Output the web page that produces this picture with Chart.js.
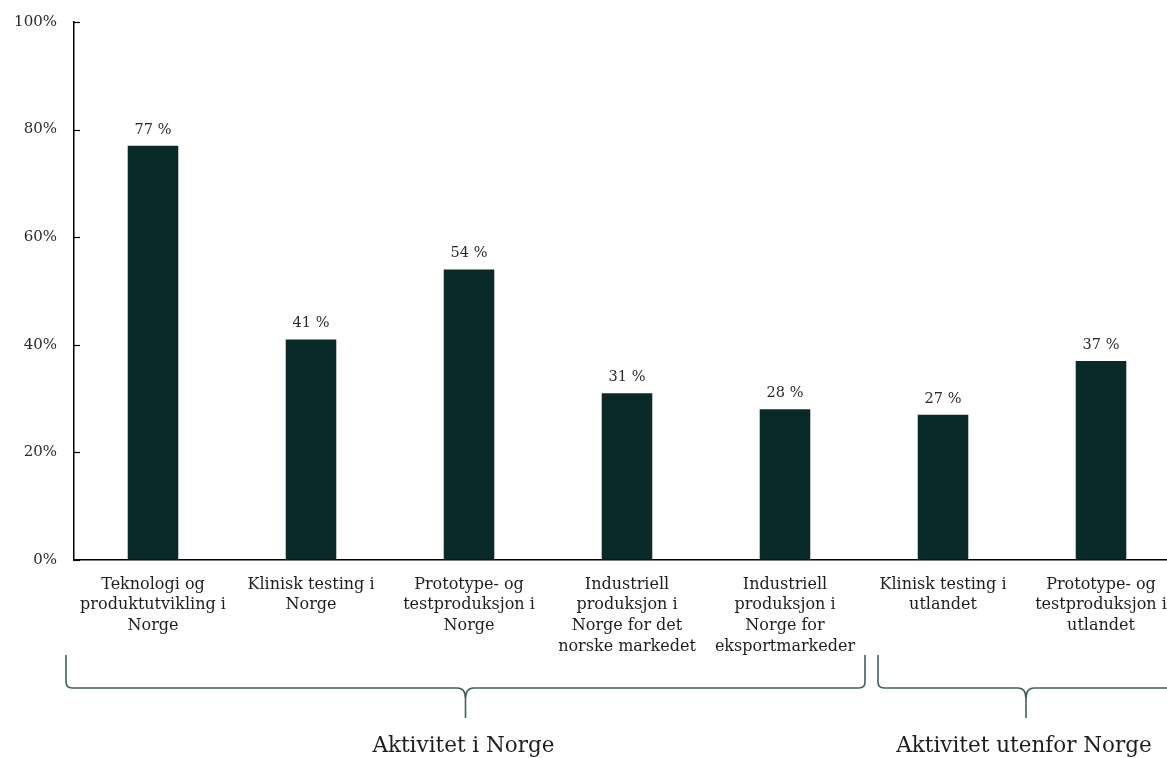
<!DOCTYPE html>
<html>
<head>
<meta charset="utf-8">
<script src="https://cdn.jsdelivr.net/npm/chart.js@4/dist/chart.umd.min.js"></script>
<style>
  html, body { margin: 0; padding: 0; background: #fff; overflow: hidden; }
  #wrap { width: 1180px; height: 758px; }
</style>
</head>
<body>
<div id="wrap"><canvas id="myChart" width="1180" height="758"></canvas></div>
<script>
var categories = [
  ["Teknologi og", "produktutvikling i", "Norge"],
  ["Klinisk testing i", "Norge"],
  ["Prototype- og", "testproduksjon i", "Norge"],
  ["Industriell", "produksjon i", "Norge for det", "norske markedet"],
  ["Industriell", "produksjon i", "Norge for", "eksportmarkeder"],
  ["Klinisk testing i", "utlandet"],
  ["Prototype- og", "testproduksjon i", "utlandet"]
];
var shares = [77, 41, 54, 31, 28, 27, 37];
var yTicks = [0, 20, 40, 60, 80, 100];

// groups of categories that get a brace underneath (first index, last index)
var groupNames = ["Aktivitet i Norge", "Aktivitet utenfor Norge"];
var groupFrom = [0, 5];
var groupTo = [4, 6];

var serif = "'DejaVu Serif', 'Liberation Serif', serif";
var barColor = "#0a2a2a";

var valueLabels = {
  id: "valueLabels",
  afterDatasetsDraw: function (chart) {
    var ctx = chart.ctx;
    var meta = chart.getDatasetMeta(0);
    ctx.save();
    ctx.font = "14.5px " + serif;
    ctx.fillStyle = "#2a2a2a";
    ctx.textAlign = "center";
    ctx.textBaseline = "alphabetic";
    meta.data.forEach(function (bar, i) {
      ctx.fillText(shares[i] + " %", bar.x, bar.y - 12);
    });
    ctx.restore();
  }
};

// small tick marks pointing into the plot
var innerTicks = {
  id: "innerTicks",
  afterDraw: function (chart) {
    var ctx = chart.ctx;
    var y = chart.scales.y;
    var x0 = chart.chartArea.left;
    ctx.save();
    ctx.strokeStyle = "#000";
    ctx.lineWidth = 1.2;
    yTicks.forEach(function (t) {
      var py = Math.round(y.getPixelForValue(t)) + 0.5;
      ctx.beginPath();
      ctx.moveTo(x0, py);
      ctx.lineTo(x0 + 6, py);
      ctx.stroke();
    });
    ctx.restore();
  }
};

function drawBrace(ctx, xa, xb, yTop, yLine, yTip) {
  var xm = (xa + xb) / 2;
  var r = 6;
  ctx.beginPath();
  ctx.moveTo(xa, yTop);
  ctx.lineTo(xa, yLine - r);
  ctx.quadraticCurveTo(xa, yLine, xa + r, yLine);
  ctx.lineTo(xm - 8, yLine);
  ctx.quadraticCurveTo(xm, yLine, xm, yLine + 11);
  ctx.lineTo(xm, yTip);
  ctx.moveTo(xm, yLine + 11);
  ctx.quadraticCurveTo(xm, yLine, xm + 8, yLine);
  ctx.lineTo(xb - r, yLine);
  ctx.quadraticCurveTo(xb, yLine, xb, yLine - r);
  ctx.lineTo(xb, yTop);
  ctx.stroke();
  return xm;
}

var braces = {
  id: "braces",
  afterDraw: function (chart) {
    var ctx = chart.ctx;
    var x = chart.scales.x;
    var half = (x.getPixelForValue(1) - x.getPixelForValue(0)) / 2;
    ctx.save();
    ctx.strokeStyle = "#435f5f";
    ctx.lineWidth = 1.6;
    groupNames.forEach(function (name, g) {
      var xa = x.getPixelForValue(groupFrom[g]) - half + (g === 0 ? -8 : 14);
      var xb = x.getPixelForValue(groupTo[g]) + half + (g === 0 ? 1 : -6);
      var xm = drawBrace(ctx, xa, xb, 655, 688, 718);
      ctx.fillStyle = "#1e1e1e";
      ctx.font = "21.5px " + serif;
      ctx.textAlign = "center";
      ctx.textBaseline = "alphabetic";
      ctx.fillText(name, xm - 2, 752);
    });
    ctx.restore();
  }
};

new Chart("myChart", {
  type: "bar",
  data: {
    labels: categories,
    datasets: [{
      data: shares,
      backgroundColor: barColor,
      borderWidth: 0,
      barPercentage: 0.32,
      categoryPercentage: 1
    }]
  },
  options: {
    responsive: false,
    animation: false,
    layout: { padding: { top: 22, right: 0, left: 0, bottom: 0 } },
    plugins: {
      legend: { display: false },
      tooltip: { enabled: false }
    },
    scales: {
      x: {
        grid: { display: false },
        border: { display: true, color: "#000", width: 1.5 },
        ticks: {
          color: "#1e1e1e",
          font: { family: serif, size: 16, lineHeight: 1.3 },
          maxRotation: 0,
          autoSkip: false,
          padding: 6
        },
        afterFit: function (scale) { scale.height = 198; }
      },
      y: {
        min: 0,
        max: 100,
        // invisible tick marks only push the labels away from the axis
        grid: {
          display: true,
          drawOnChartArea: false,
          drawTicks: true,
          tickLength: 14,
          color: "transparent",
          tickColor: "transparent"
        },
        border: { display: true, color: "#000", width: 1.5 },
        ticks: {
          stepSize: 20,
          color: "#2a2a2a",
          padding: 3,
          font: { family: serif, size: 15 },
          callback: function (v) { return v + "%"; }
        },
        afterFit: function (scale) { scale.width = 74; }
      }
    }
  },
  plugins: [valueLabels, innerTicks, braces]
});
</script>
</body>
</html>
